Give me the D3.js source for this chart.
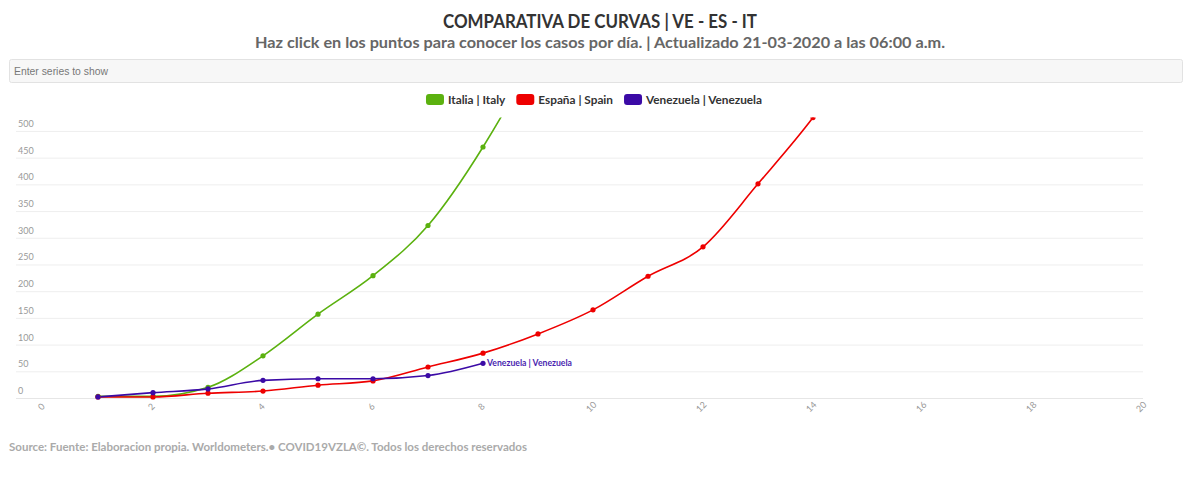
<!DOCTYPE html>
<html><head><meta charset="utf-8">
<script src="https://cdn.jsdelivr.net/npm/d3@7"></script>
<style>
body{margin:0;background:#fff;}
svg{display:block;}
</style></head>
<body>
<svg id="c" width="1200" height="483"></svg>
<script>
const title = "COMPARATIVA DE CURVAS | VE - ES - IT";
const subtitle = "Haz click en los puntos para conocer los casos por día. | Actualizado 21-03-2020 a las 06:00 a.m.";
const footer = "Source: Fuente: Elaboracion propia. Worldometers.• COVID19VZLA©. Todos los derechos reservados";
const seriesNames = ["Italia | Italy", "España | Spain", "Venezuela | Venezuela"];
const seriesColors = ["#5bb10f", "#ee0000", "#3b0aa6"];
const italyDays = [1,2,3,4,5,6,7,8,9,10];
const italyValues = [3,3,20,79,157,229,323,470,655,889];
const spainDays = [1,2,3,4,5,6,7,8,9,10,11,12,13,14,15];
const spainValues = [2,2,9,13,24,32,58,84,120,165,228,283,401,525,674];
const venezuelaDays = [1,2,3,4,5,6,7,8];
const venezuelaValues = [2,10,17,33,36,36,42,65];
const xTicks = [0,2,4,6,8,10,12,14,16,18,20];
const yTicks = [0,50,100,150,200,250,300,350,400,450,500];

const svg = d3.select("#c");
const FONT = "Lato, 'Open Sans', sans-serif";

svg.append("text").attr("x",600).attr("y",28).attr("text-anchor","middle")
  .attr("font-family",FONT).attr("font-weight",700).attr("font-size",18.5).attr("fill","#333")
  .attr("textLength",314).attr("lengthAdjust","spacingAndGlyphs").text(title);
svg.append("text").attr("x",600).attr("y",48).attr("text-anchor","middle")
  .attr("font-family",FONT).attr("font-weight",700).attr("font-size",16).attr("fill","#666")
  .attr("textLength",690).attr("lengthAdjust","spacingAndGlyphs").text(subtitle);

// search box
svg.append("rect").attr("x",9.5).attr("y",59.5).attr("width",1173).attr("height",23).attr("rx",2)
  .attr("fill","#f7f7f7").attr("stroke","#e2e2e2");
svg.append("text").attr("x",14).attr("y",74.5).attr("font-family","'Liberation Sans Narrow', Arial, sans-serif")
  .attr("font-size",11).attr("fill","#777").attr("textLength",94).attr("lengthAdjust","spacingAndGlyphs")
  .text("Enter series to show");

// legend
const legend = svg.append("g");
let lx = 0;
seriesNames.forEach((n,i)=>{
  const g = legend.append("g").attr("transform",`translate(${lx},0)`);
  g.append("rect").attr("x",0).attr("y",-6).attr("width",18).attr("height",11).attr("rx",3).attr("fill",seriesColors[i]);
  const t = g.append("text").attr("x",22).attr("y",4).attr("font-family",FONT).attr("font-weight",700)
    .attr("font-size",11.8).attr("fill","#333").text(n);
  lx += 22 + t.node().getComputedTextLength() + 11;
});
legend.attr("transform",`translate(${600-(lx-11)/2-6},100)`);

// chart
const x = d3.scaleLinear().domain([0,20]).range([43,1143]);
const y = d3.scaleLinear().domain([0,525]).range([398,117.6]);

const grid = svg.append("g");
yTicks.forEach(v=>{
  grid.append("line").attr("x1",16).attr("x2",1143).attr("y1",y(v)+0.5).attr("y2",y(v)+0.5)
    .attr("stroke", v===0 ? "#e6e6e6" : "#eeeeee").attr("stroke-width",1);
  grid.append("text").attr("x",18).attr("y",y(v)-4).attr("font-family",FONT).attr("font-size",9)
    .attr("fill","#999").text(v);
});

const xAxis = svg.append("g").attr("transform","translate(0,398)")
  .call(d3.axisBottom(x).tickValues(xTicks).tickSize(0).tickPadding(0));
xAxis.select(".domain").remove();
xAxis.selectAll("text").attr("font-family",FONT).attr("font-size",9).attr("fill","#999")
  .attr("text-anchor","middle").attr("dy",0)
  .attr("transform","translate(0,11) rotate(-45)");

svg.append("clipPath").attr("id","clip").append("rect").attr("x",0).attr("y",117.6).attr("width",1200).attr("height",300);

const line = d3.line().x(d=>x(d[0])).y(d=>y(d[1])).curve(d3.curveMonotoneX);
const data = [
  d3.zip(italyDays, italyValues),
  d3.zip(spainDays, spainValues),
  d3.zip(venezuelaDays, venezuelaValues)
];
const plot = svg.append("g").attr("clip-path","url(#clip)");
data.forEach((d,i)=>{
  plot.append("path").datum(d).attr("d",line).attr("fill","none").attr("stroke",seriesColors[i]).attr("stroke-width",1.6);
});
data.forEach((d,i)=>{
  plot.selectAll(null).data(d).enter().append("circle")
    .attr("cx",p=>x(p[0])).attr("cy",p=>y(p[1])).attr("r",2.6).attr("fill",seriesColors[i]);
});
// end label Venezuela
const last = data[2][data[2].length-1];
svg.append("text").attr("x",x(last[0])+4).attr("y",y(last[1])+3).attr("font-family",FONT)
  .attr("font-weight",700).attr("font-size",9.5).attr("fill","#4a1fb0")
  .attr("textLength",85).attr("lengthAdjust","spacingAndGlyphs").text(seriesNames[2]);

svg.append("text").attr("x",9).attr("y",451).attr("font-family",FONT).attr("font-weight",700)
  .attr("font-size",12).attr("fill","#aaa").attr("textLength",518).attr("lengthAdjust","spacingAndGlyphs").text(footer);
</script>
</body></html>
